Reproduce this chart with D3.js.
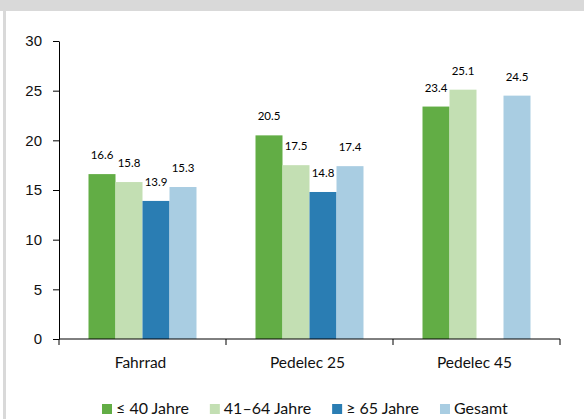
<!DOCTYPE html>
<html>
<head>
<meta charset="utf-8">
<script src="https://cdn.jsdelivr.net/npm/d3@7"></script>
<style>
  body { margin: 0; background: #fff; }
  svg { display: block; font-family: Lato, "Open Sans", sans-serif; }
</style>
</head>
<body>
<script>
// Data
const categories = ["Fahrrad", "Pedelec 25", "Pedelec 45"];
const seriesNames = ["≤ 40 Jahre", "41–64 Jahre", "≥ 65 Jahre", "Gesamt"];
const seriesColors = ["#62ad45", "#c3dfb3", "#2a7db3", "#a9cde2"];
const under40 = [16.6, 20.5, 23.4];
const age41to64 = [15.8, 17.5, 25.1];
const over65 = [13.9, 14.8, null];
const total = [15.3, 17.4, 24.5];
const yTicks = [0, 5, 10, 15, 20, 25, 30];

const seriesValues = [under40, age41to64, over65, total];

// Dimensions
const width = 584;
const height = 419;
const margin = { top: 41, right: 24, bottom: 80, left: 59 };

const svg = d3
  .select("body")
  .append("svg")
  .attr("width", width)
  .attr("height", height);

// gray frame
svg.append("rect").attr("x", 0).attr("y", 0).attr("width", width).attr("height", 11).attr("fill", "#d9d9d9");
svg.append("rect").attr("x", 3).attr("y", 11).attr("width", 3).attr("height", height - 11).attr("fill", "#d9d9d9");

// Scales
const x0 = d3
  .scaleBand()
  .domain(categories)
  .range([margin.left, width - margin.right])
  .padding(0);

const groupWidth = 108;
const x1 = d3
  .scaleBand()
  .domain(seriesNames)
  .range([(x0.bandwidth() - groupWidth) / 2, (x0.bandwidth() + groupWidth) / 2])
  .padding(0);

const y = d3
  .scaleLinear()
  .domain([0, 30])
  .range([height - margin.bottom, margin.top]);

// Y axis
const yAxis = d3.axisLeft(y).tickValues(yTicks).tickSize(6).tickSizeOuter(0).tickPadding(11);
const gy = svg
  .append("g")
  .attr("transform", `translate(${margin.left},0)`)
  .call(yAxis);
gy.select(".domain").attr("stroke", "#000");
gy.selectAll(".tick line").attr("stroke", "#000");
gy.selectAll(".tick text")
  .attr("fill", "#111")
  .style("font-size", "15px");

// Bars
const rows = [];
categories.forEach((c, i) => {
  seriesNames.forEach((s, j) => {
    if (seriesValues[j][i] != null) rows.push({ cat: c, series: s, color: seriesColors[j], value: seriesValues[j][i] });
  });
});

svg
  .selectAll("rect.bar")
  .data(rows)
  .enter()
  .append("rect")
  .attr("class", "bar")
  .attr("x", (d) => x0(d.cat) + x1(d.series))
  .attr("y", (d) => y(d.value))
  .attr("width", x1.bandwidth())
  .attr("height", (d) => y(0) - y(d.value))
  .attr("fill", (d) => d.color);

// Value labels
svg
  .selectAll("text.val")
  .data(rows)
  .enter()
  .append("text")
  .attr("class", "val")
  .attr("x", (d) => x0(d.cat) + x1(d.series) + x1.bandwidth() / 2)
  .attr("y", (d) => y(d.value) - 15)
  .attr("text-anchor", "middle")
  .style("font-size", "11.5px")
  .attr("fill", "#000")
  .text((d) => d.value.toFixed(1));

// X axis (ticks at band boundaries)
const gx = svg.append("g");
gx.append("line")
  .attr("x1", x0.range()[0])
  .attr("x2", x0.range()[1])
  .attr("y1", y(0))
  .attr("y2", y(0))
  .attr("stroke", "#000");
gx.selectAll("line.tick")
  .data(categories.map((c) => x0(c)).concat([x0.range()[1]]))
  .enter()
  .append("line")
  .attr("class", "tick")
  .attr("x1", (d) => d)
  .attr("x2", (d) => d)
  .attr("y1", y(0))
  .attr("y2", y(0) + 6)
  .attr("stroke", "#000");
gx.selectAll("text")
  .data(categories)
  .enter()
  .append("text")
  .attr("x", (d) => x0(d) + x0.bandwidth() / 2 - 2)
  .attr("y", y(0) + 29)
  .attr("text-anchor", "middle")
  .style("font-size", "15.5px")
  .attr("fill", "#111")
  .text((d) => d);

// Legend
const legend = svg.append("g").attr("transform", "translate(102, 414)");
let lx = 0;
seriesNames.forEach((s, j) => {
  const item = legend.append("g").attr("transform", `translate(${lx},0)`);
  item.append("rect").attr("x", 0).attr("y", -10).attr("width", 10).attr("height", 10).attr("fill", seriesColors[j]);
  const t = item
    .append("text")
    .attr("x", 14)
    .attr("y", 0)
    .style("font-size", "16px")
    .attr("fill", "#111")
    .text(s);
  lx += 14 + t.node().getComputedTextLength() + 21;
});
</script>
</body>
</html>
